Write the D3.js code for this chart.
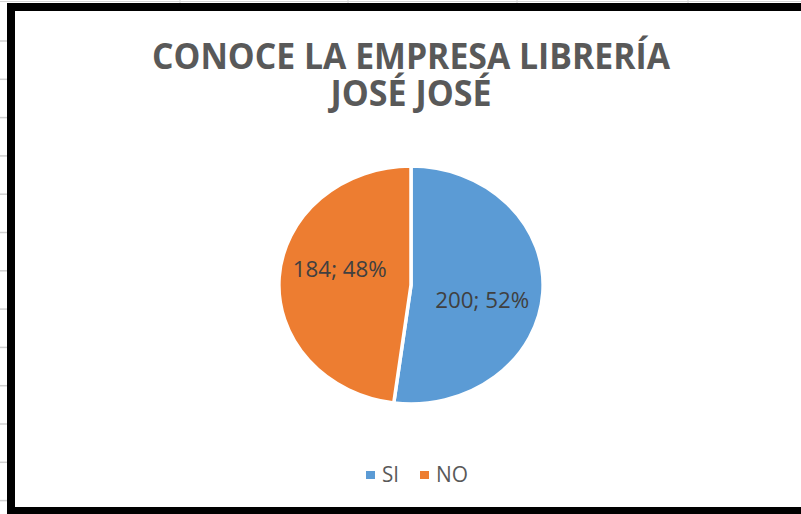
<!DOCTYPE html>
<html>
<head>
<meta charset="utf-8">
<script src="https://cdn.jsdelivr.net/npm/d3@7"></script>
<style>
  html, body { margin: 0; padding: 0; background: #fff; }
  svg { display: block; }
</style>
</head>
<body>
<script>
// data
const categories = ['SI', 'NO'];
const values = [200, 184];
const colors = ['#5B9BD5', '#ED7D31'];
const titleLines = ['CONOCE LA EMPRESA LIBRERÍA', 'JOSÉ JOSÉ'];

const width = 801, height = 514;
const cx = 411, cy = 285;
const ry = 119, sx = 1.11; // chart is a bit stretched sideways

const svg = d3.select('body').append('svg')
	.attr('width', width)
	.attr('height', height)
	.style('font-family', '"Open Sans", sans-serif');

// spreadsheet bits outside the chart frame
svg.append('line')
	.attr('x1', 0).attr('x2', width).attr('y1', 1.5).attr('y2', 1.5)
	.attr('stroke', '#d4d4d4').attr('stroke-width', 1);
[180, 348, 517, 688].forEach(x => {
	svg.append('line')
		.attr('x1', x).attr('x2', x).attr('y1', 0).attr('y2', 4)
		.attr('stroke', '#d4d4d4');
});
d3.range(41, 510, 38.3).forEach(y => {
	svg.append('line')
		.attr('x1', 0).attr('x2', 7).attr('y1', y).attr('y2', y)
		.attr('stroke', '#d0d0d0').attr('stroke-width', 1.5);
});

// chart area + black frame
svg.append('rect')
	.attr('x', 11).attr('y', 7)
	.attr('width', 900).attr('height', 504)
	.attr('fill', '#fff')
	.attr('stroke', '#000')
	.attr('stroke-width', 8);

// title (one text, two lines)
const titleBase = [69, 106];
const titleLen = [518, 161];
svg.append('text')
	.attr('class', 'title')
	.attr('text-anchor', 'middle')
	.attr('font-size', 36)
	.attr('font-weight', 700)
	.attr('fill', '#595959')
	.selectAll('tspan')
	.data(titleLines)
	.enter().append('tspan')
	.attr('x', cx)
	.attr('y', (d, i) => titleBase[i])
	.attr('textLength', (d, i) => titleLen[i])
	.attr('lengthAdjust', 'spacingAndGlyphs')
	.text(d => d);

// pie
const total = d3.sum(values);
const data = categories.map((c, i) => ({ name: c, value: values[i], color: colors[i] }));

const pie = d3.pie()
	.sort(null)
	.value(d => d.value);

const arc = d3.arc()
	.innerRadius(0)
	.outerRadius(ry);

const arcs = pie(data);

const g = svg.append('g')
	.attr('transform', `translate(${cx},${cy}) scale(${sx},1)`);

g.selectAll('path')
	.data(arcs)
	.enter().append('path')
	.attr('d', arc)
	.attr('fill', d => d.data.color)
	.attr('stroke', '#fff')
	.attr('stroke-width', 3.5)
	.attr('vector-effect', 'non-scaling-stroke');

// data labels ("value; pct")
const labelR = 66, labelShift = 10 * Math.PI / 180;
const labelPos = d => {
	const a = (d.startAngle + d.endAngle) / 2 + labelShift;
	return [cx + Math.sin(a) * labelR * sx, cy - Math.cos(a) * labelR];
};
const pct = d3.format('.0%');

svg.selectAll('text.lbl')
	.data(arcs)
	.enter().append('text')
	.attr('class', 'lbl')
	.attr('x', d => labelPos(d)[0])
	.attr('y', d => labelPos(d)[1])
	.attr('dy', '0.35em')
	.attr('text-anchor', 'middle')
	.attr('font-size', 21)
	.attr('fill', '#404040')
	.attr('textLength', 94)
	.attr('lengthAdjust', 'spacingAndGlyphs')
	.text(d => `${d.data.value}; ${pct(d.data.value / total)}`);

// legend
const legendX = [366, 420];
const legendText = [17, 32];
const leg = svg.selectAll('g.leg')
	.data(data)
	.enter().append('g')
	.attr('class', 'leg')
	.attr('transform', (d, i) => `translate(${legendX[i]},471)`);

leg.append('rect')
	.attr('width', 9).attr('height', 8)
	.attr('fill', d => d.color);

leg.append('text')
	.attr('x', 16)
	.attr('y', 11)
	.attr('font-size', 22)
	.attr('fill', '#595959')
	.attr('textLength', (d, i) => legendText[i])
	.attr('lengthAdjust', 'spacingAndGlyphs')
	.text(d => d.name);
</script>
</body>
</html>
